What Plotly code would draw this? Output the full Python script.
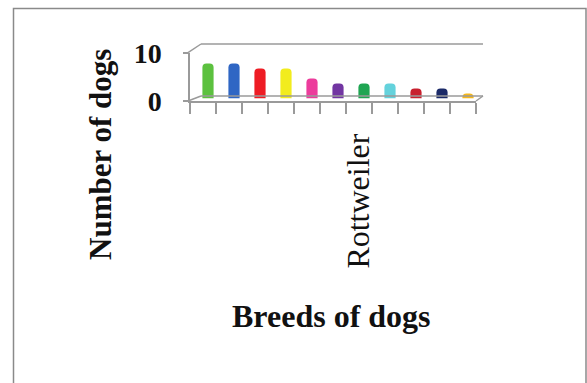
import plotly.graph_objects as go

# ---- data ----
positions = list(range(11))
dog_counts = [7, 7, 6, 6, 4, 3, 3, 3, 2, 2, 1]
tick_labels = ["", "", "", "", "", "", "Rottweiler", "", "", "", ""]
bar_colors = ["#5cc13f", "#2f66c4", "#ee1c24", "#f2ec1e", "#ec3c9c", "#7236a2",
              "#1fa552", "#64d2dc", "#c8202e", "#1b2a68", "#f7b81a"]
y_ticks = [0, 10]

W, H = 587, 383
def px(x):
    return x / W
def py(y):
    return 1 - y / H

GRAY = "#9a9a9a"
SERIF = "Liberation Serif, Times New Roman, serif"

fig = go.Figure()
fig.add_trace(go.Bar(
    x=positions, y=dog_counts, xaxis="x2", yaxis="y2",
    marker=dict(color=bar_colors, line=dict(width=0), cornerradius=4),
    width=0.43, showlegend=False, hoverinfo="skip",
))
fig.add_trace(go.Scatter(x=[positions[0]], y=[y_ticks[0]], mode="markers",
                         marker=dict(opacity=0), showlegend=False, hoverinfo="skip"))

shapes = [
    dict(type="rect", xref="paper", yref="paper", x0=px(13.5), x1=px(586), y0=py(8.5), y1=-0.1,
         line=dict(color="#8a8a8a", width=1.5)),
    dict(type="line", xref="paper", yref="paper", x0=px(201), x1=px(483), y0=py(44), y1=py(44),
         line=dict(color=GRAY, width=1.5)),
    dict(type="line", xref="paper", yref="paper", x0=px(188), x1=px(201), y0=py(52.7), y1=py(44),
         line=dict(color=GRAY, width=1.5)),
    dict(type="line", xref="paper", yref="paper", x0=px(201), x1=px(483), y0=py(96), y1=py(96),
         line=dict(color=GRAY, width=1.5)),
    dict(type="line", xref="paper", yref="paper", x0=px(188), x1=px(201), y0=py(101), y1=py(96),
         line=dict(color=GRAY, width=1.5)),
    dict(type="line", xref="paper", yref="paper", x0=px(476), x1=px(483), y0=py(101), y1=py(96),
         line=dict(color=GRAY, width=1.5)),
]

fig.update_layout(
    width=W, height=H,
    margin=dict(l=0, r=0, t=0, b=0, pad=0, autoexpand=False),
    paper_bgcolor="white", plot_bgcolor="rgba(0,0,0,0)",
    shapes=shapes,
    xaxis=dict(
        domain=[px(190), px(476)], range=[-0.5, 10.5],
        showline=True, linecolor=GRAY, linewidth=1.5,
        showgrid=False, zeroline=False, automargin=False,
        tickmode="array", tickvals=positions, ticktext=tick_labels,
        ticks="", tickangle=-90, ticklabelstandoff=18,
        tickfont=dict(family=SERIF, size=32, color="#111111"),
        minor=dict(tickmode="array", tickvals=[p - 0.5 for p in positions] + [positions[-1] + 0.5],
                   ticks="outside", ticklen=11, tickcolor=GRAY, tickwidth=1.5),
    ),
    yaxis=dict(
        domain=[py(101), py(52.7)], range=[0, 10],
        showline=True, linecolor=GRAY, linewidth=1.5,
        showgrid=False, zeroline=False, automargin=False,
        tickmode="array", tickvals=y_ticks,
        ticks="outside", ticklen=5, tickcolor=GRAY, tickwidth=1.5,
        ticklabelstandoff=16,
        tickfont=dict(family=SERIF, size=28, color="#111111", weight="bold"),
    ),
    xaxis2=dict(domain=[px(195), px(481)], range=[-0.5, 10.5], visible=False, anchor="y2"),
    yaxis2=dict(domain=[py(98.5), py(48.5)], range=[0, 10], visible=False, anchor="x2"),
    annotations=[
        dict(text="<b>Number of dogs</b>", xref="paper", yref="paper", x=px(100), y=py(155),
             textangle=-90, showarrow=False, xanchor="center", yanchor="middle",
             font=dict(family=SERIF, size=31, color="#111111")),
        dict(text="<b>Breeds of dogs</b>", xref="paper", yref="paper", x=px(331), y=py(316),
             showarrow=False, xanchor="center", yanchor="middle",
             font=dict(family=SERIF, size=32, color="#111111")),
    ],
)

fig.write_html("out.html", config={"displayModeBar": False},
               post_script="document.body.style.margin='0';document.body.style.overflow='hidden';")
